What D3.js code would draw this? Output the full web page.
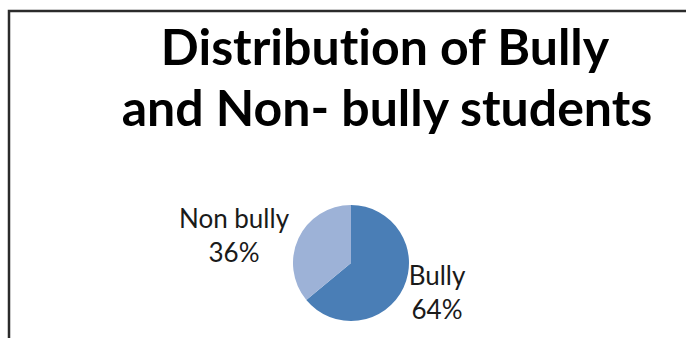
<!DOCTYPE html>
<html>
<head>
<meta charset="utf-8">
<script src="https://cdn.jsdelivr.net/npm/d3@7"></script>
<style>
  body { margin: 0; background: #fff; }
  svg { display: block; }
  text { font-variant-ligatures: none; }
</style>
</head>
<body>
<div id="chart"></div>
<script>
// data
let categories = ["Bully", "Non bully"];
let values = [64, 36];
let colors = ["#4A7EB6", "#9DB2D7"];
let titleLines = ["Distribution of Bully", "and Non- bully students"];

let width = 686, height = 338;

let svg = d3.select("#chart").append("svg")
    .attr("width", width)
    .attr("height", height);

svg.append("rect")
    .attr("width", width)
    .attr("height", height)
    .attr("fill", "#fff");

// chart frame (only left and top edges show)
svg.append("path")
    .attr("d", "M9," + height + " V11 H" + width)
    .attr("fill", "none")
    .attr("stroke", "#2b2b2b")
    .attr("stroke-width", 2.5);

// title
let title = svg.append("g")
    .attr("font-family", "Lato, 'Open Sans', sans-serif")
    .attr("font-weight", "bold")
    .attr("fill", "#000")
    .attr("text-anchor", "middle");

title.selectAll("text")
    .data(titleLines)
    .enter().append("text")
    .attr("x", (d, i) => i == 0 ? 385 : 387)
    .attr("y", (d, i) => 65 + i * 61)
    .attr("font-size", 50)
    .text(d => d);

// pie
let cx = 351, cy = 263, r = 58;

let pie = d3.pie()
    .sort(null)
    .value(d => d);

let arc = d3.arc()
    .innerRadius(0)
    .outerRadius(r);

let pieG = svg.append("g")
    .attr("transform", "translate(" + cx + "," + cy + ")");

pieG.selectAll("path")
    .data(pie(values))
    .enter().append("path")
    .attr("d", arc)
    .attr("fill", (d, i) => colors[i]);

// data labels
let labelPos = [[437, 285], [234, 228]];
let labels = svg.append("g")
    .attr("font-family", "Lato, 'Open Sans', sans-serif")
    .attr("font-size", 26)
    .attr("fill", "#1a1a1a")
    .attr("text-anchor", "middle");

categories.forEach(function (c, i) {
    let t = labels.append("text")
        .attr("x", labelPos[i][0])
        .attr("y", labelPos[i][1]);
    t.append("tspan")
        .attr("x", labelPos[i][0])
        .text(c);
    t.append("tspan")
        .attr("x", labelPos[i][0])
        .attr("dy", 34)
        .text(values[i] + "%");
});
</script>
</body>
</html>
